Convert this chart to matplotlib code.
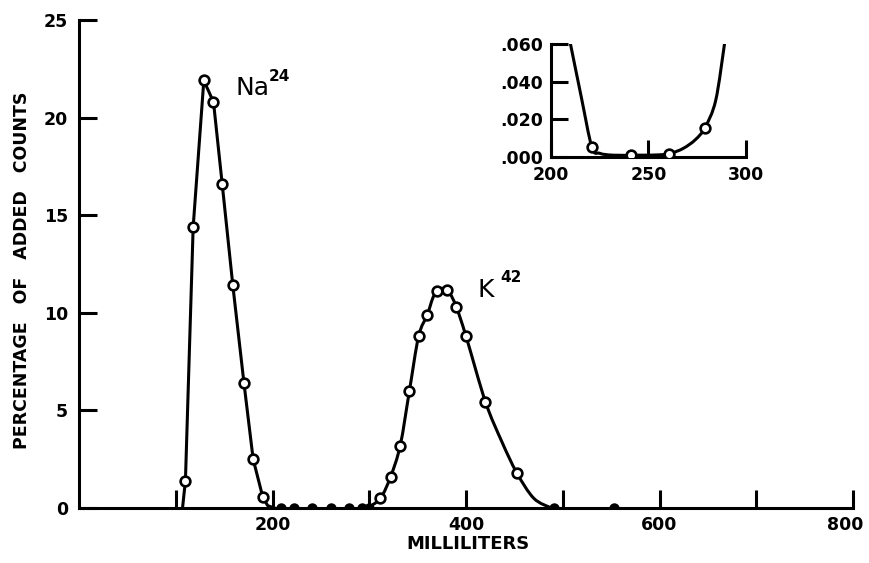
"""
Elution curves of Na24 and K42, with an inset of the gap between the peaks.
"""
import numpy as np
import matplotlib
matplotlib.use("Agg")
import matplotlib.pyplot as plt
import matplotlib.transforms as mtransforms
from matplotlib.path import Path
from matplotlib.patches import PathPatch

"""Data read off the picture"""
# measured points (open circles)
na_ml = [110, 118, 129, 139, 148, 159, 170.5, 180, 190]
na_pct = [1.4, 14.4, 21.9, 20.8, 16.6, 11.4, 6.4, 2.5, 0.55]
k_ml = [311.5, 322, 332, 341.5, 351, 360, 370, 380.5, 390, 400, 420, 452.5]
k_pct = [0.5, 1.6, 3.2, 6.0, 8.8, 9.9, 11.1, 11.15, 10.3, 8.8, 5.45, 1.8]
# points lying on the baseline (half hidden by the axis)
zero_ml = [209, 222, 241, 260, 279, 292, 300, 491, 553]
zero_pct = [0, 0, 0, 0, 0, 0, 0, 0, 0]

# drawn curves
na_curve_ml = [107, 110, 118, 129, 139, 148, 159, 170.5, 180, 190, 195, 202]
na_curve_pct = [0, 1.4, 14.4, 21.9, 20.8, 16.6, 11.4, 6.4, 2.5, 0.55, 0.12, 0]
k_curve_ml = [298, 311.5, 322, 332, 341.5, 351, 360, 367, 375, 383, 390, 400, 420, 437, 452.5, 470, 488]
k_curve_pct = [0, 0.5, 1.6, 3.2, 6.0, 8.8, 9.9, 10.9, 11.25, 11.0, 10.3, 8.8, 5.45, 3.4, 1.8, 0.5, 0]

# inset (percent, 200-300 ml)
ins_ml = [221, 241, 260.5, 279]
ins_pct = [0.005, 0.001, 0.0013, 0.0155]
ins_curve_ml = [210, 215.5, 221, 225, 232, 245, 256, 262, 268, 274, 279, 284.5, 289]
ins_curve_pct = [0.060, 0.032, 0.005, 0.0018, 0.0008, 0.0008, 0.001, 0.002, 0.0045, 0.009, 0.0155, 0.030, 0.060]

xticks = [100, 200, 300, 400, 500, 600, 700, 800]
xticklabels = ["", "200", "", "400", "", "600", "", "800"]
yticks = [0, 5, 10, 15, 20, 25]
ins_yticks = [0, 0.02, 0.04, 0.06]
ins_yticklabels = [".000", ".020", ".040", ".060"]
ins_xticks = [200, 250, 300]


def smooth(ax, xs, ys, lw):
    """Catmull-Rom curve through the points, drawn as cubic beziers"""
    p = np.column_stack([xs, ys]).astype(float)
    p = np.vstack([p[0], p, p[-1]])
    verts = [p[1]]
    codes = [Path.MOVETO]
    for i in range(1, len(p) - 2):
        c1 = p[i] + (p[i + 1] - p[i - 1]) / 6
        c2 = p[i + 1] - (p[i + 2] - p[i]) / 6
        verts += [c1, c2, p[i + 1]]
        codes += [Path.CURVE4] * 3
    ax.add_patch(PathPatch(Path(verts, codes), fill=False, lw=lw,
                           ec="black", capstyle="round", joinstyle="round"))


plt.rcParams["font.family"] = "DejaVu Sans"
lw = 2.2
mk = dict(ls="none", marker="o", ms=7, mfc="white", mec="black", mew=1.9, zorder=5)

fig = plt.figure(figsize=(8.7, 5.63), dpi=100)
ax = fig.add_axes([0.0908, 0.0977, 0.8897, 0.8668])

ax.plot(na_curve_ml, na_curve_pct, color="black", lw=lw, solid_joinstyle="round")
smooth(ax, k_curve_ml, k_curve_pct, lw)
ax.plot(na_ml, na_pct, **mk)
ax.plot(k_ml, k_pct, **mk)
ax.plot(zero_ml, zero_pct, ls="none", marker="o", ms=7.5, fillstyle="top",
        mfc="black", mfcalt="none", mec="none", zorder=5)

ax.set_xlim(0, 800)
ax.set_ylim(0, 25)
for s in ["top", "right"]:
    ax.spines[s].set_visible(False)
for s in ["left", "bottom"]:
    ax.spines[s].set_linewidth(lw)
ax.set_xticks(xticks)
ax.set_xticklabels(xticklabels)
ax.set_yticks(yticks)
ax.tick_params(direction="in", length=13, width=lw, labelsize=12.5)
ax.tick_params(axis="x", pad=6)
ax.tick_params(axis="y", pad=8)
for t in ax.get_xticklabels() + ax.get_yticklabels():
    t.set_fontweight("bold")
# the last label sits a little left of its tick
lab800 = ax.get_xticklabels()[-1]
lab800.set_transform(lab800.get_transform() +
                     mtransforms.ScaledTranslation(-8 / 100, 0, fig.dpi_scale_trans))

fig.text(0.538, 0.018, "MILLILITERS", ha="center", va="bottom",
         fontsize=13, fontweight="bold")
fig.text(0.025, 0.52, "PERCENTAGE   OF   ADDED   COUNTS", rotation=90,
         ha="center", va="center", fontsize=12.5, fontweight="bold")

ax.text(162, 21.15, "Na", fontsize=18, ha="left", va="baseline")
ax.text(196, 22.5, "24", fontsize=11, fontweight="bold", ha="left", va="top")
ax.text(412, 10.8, "K", fontsize=18, ha="left", va="baseline")
ax.text(435, 12.2, "42", fontsize=11, fontweight="bold", ha="left", va="top")

"""Inset"""
ins = fig.add_axes([0.6333, 0.7217, 0.2241, 0.2002])
ins.patch.set_alpha(0)
smooth(ins, ins_curve_ml, ins_curve_pct, lw)
ins.plot(ins_ml, ins_pct, **mk)
ins.set_xlim(200, 300)
ins.set_ylim(0, 0.06)
for s in ["top", "right"]:
    ins.spines[s].set_visible(False)
for s in ["left", "bottom"]:
    ins.spines[s].set_linewidth(lw)
ins.set_xticks(ins_xticks)
ins.set_yticks(ins_yticks)
ins.set_yticklabels(ins_yticklabels)
ins.tick_params(direction="in", length=12, width=lw, labelsize=12.5)
ins.tick_params(axis="x", pad=7)
ins.tick_params(axis="y", pad=6)
for t in ins.get_xticklabels() + ins.get_yticklabels():
    t.set_fontweight("bold")

fig.savefig("out.png", dpi=100)
